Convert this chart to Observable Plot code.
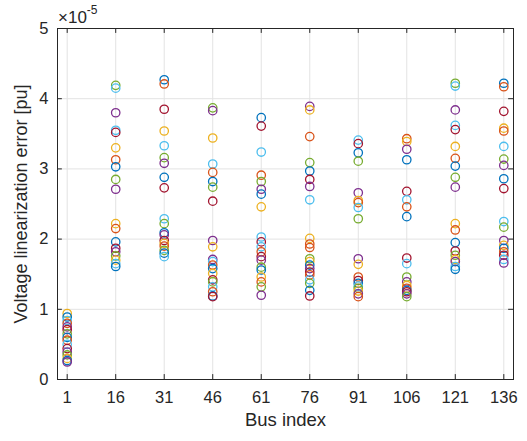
<!DOCTYPE html>
<html>
<head>
<meta charset="utf-8">
<script src="https://cdn.jsdelivr.net/npm/d3@7"></script>
<script src="https://cdn.jsdelivr.net/npm/@observablehq/plot@0.6"></script>
<style>
  html, body { margin: 0; padding: 0; background: #fff; }
</style>
</head>
<body>
<div id="chart"></div>
<script>
// Bus indices (x categories) and y tick values (×10^-5)
const buses = [1, 16, 31, 46, 61, 76, 91, 106, 121, 136];
const yTicks = [0, 1, 2, 3, 4, 5];

// MATLAB default colour order
const palette = {b: "#0072BD", o: "#D95319", y: "#EDB120", p: "#7E2F8E", g: "#77AC30", c: "#4DBEEE", r: "#A2142F"};

// Voltage linearization error per bus, [value ×10^-5, colour key]
const bus1 = [[0.94,"y"],[0.89,"b"],[0.84,"c"],[0.80,"o"],[0.75,"p"],[0.71,"r"],[0.65,"g"],[0.60,"b"],[0.56,"o"],[0.50,"c"],[0.44,"r"],[0.39,"p"],[0.35,"g"],[0.30,"y"],[0.27,"b"],[0.25,"p"]];
const bus16 = [[4.19,"g"],[4.15,"c"],[3.80,"p"],[3.55,"c"],[3.52,"r"],[3.30,"y"],[3.13,"o"],[3.03,"b"],[2.85,"g"],[2.71,"p"],[2.22,"y"],[2.15,"o"],[1.96,"b"],[1.87,"r"],[1.82,"p"],[1.76,"g"],[1.70,"y"],[1.65,"c"],[1.61,"b"]];
const bus31 = [[4.27,"b"],[4.21,"o"],[3.85,"r"],[3.54,"y"],[3.33,"c"],[3.16,"g"],[3.08,"p"],[2.88,"b"],[2.73,"r"],[2.29,"c"],[2.22,"g"],[2.09,"b"],[2.06,"p"],[1.98,"r"],[1.94,"y"],[1.90,"o"],[1.84,"g"],[1.80,"b"],[1.75,"c"]];
const bus46 = [[3.87,"g"],[3.83,"p"],[3.44,"y"],[3.07,"c"],[2.95,"o"],[2.82,"b"],[2.74,"g"],[2.54,"r"],[1.98,"p"],[1.89,"y"],[1.71,"p"],[1.68,"c"],[1.63,"o"],[1.58,"b"],[1.51,"y"],[1.42,"r"],[1.39,"g"],[1.32,"c"],[1.25,"o"],[1.19,"b"],[1.18,"r"]];
const bus61 = [[3.73,"b"],[3.61,"r"],[3.24,"c"],[2.91,"o"],[2.82,"g"],[2.71,"p"],[2.64,"b"],[2.46,"y"],[2.03,"c"],[1.96,"r"],[1.89,"c"],[1.82,"o"],[1.75,"r"],[1.70,"p"],[1.60,"g"],[1.56,"b"],[1.46,"y"],[1.39,"o"],[1.32,"g"],[1.20,"p"]];
const bus76 = [[3.89,"p"],[3.84,"y"],[3.46,"o"],[3.09,"g"],[2.97,"b"],[2.85,"r"],[2.75,"p"],[2.56,"c"],[2.01,"y"],[1.93,"o"],[1.88,"o"],[1.72,"g"],[1.68,"y"],[1.63,"b"],[1.58,"p"],[1.53,"r"],[1.49,"o"],[1.42,"c"],[1.37,"g"],[1.27,"b"],[1.19,"r"]];
const bus91 = [[3.41,"c"],[3.36,"r"],[3.23,"b"],[3.11,"g"],[2.66,"p"],[2.55,"y"],[2.52,"o"],[2.45,"c"],[2.29,"g"],[1.72,"p"],[1.64,"y"],[1.46,"o"],[1.41,"r"],[1.37,"b"],[1.33,"c"],[1.30,"g"],[1.26,"y"],[1.22,"p"],[1.18,"o"]];
const bus106 = [[3.43,"o"],[3.39,"y"],[3.28,"p"],[3.13,"b"],[2.68,"r"],[2.56,"c"],[2.46,"o"],[2.32,"b"],[1.73,"r"],[1.65,"c"],[1.46,"g"],[1.39,"p"],[1.34,"y"],[1.30,"o"],[1.27,"b"],[1.25,"r"],[1.22,"p"],[1.18,"g"]];
const bus121 = [[4.22,"g"],[4.18,"c"],[3.84,"p"],[3.62,"c"],[3.56,"r"],[3.32,"y"],[3.15,"o"],[3.04,"b"],[2.88,"g"],[2.74,"p"],[2.22,"y"],[2.13,"o"],[1.95,"b"],[1.83,"r"],[1.77,"g"],[1.71,"y"],[1.68,"p"],[1.61,"c"],[1.57,"b"]];
const bus136 = [[4.22,"b"],[4.17,"o"],[3.82,"r"],[3.58,"y"],[3.54,"o"],[3.32,"c"],[3.14,"g"],[3.05,"p"],[2.86,"b"],[2.72,"r"],[2.25,"c"],[2.17,"g"],[1.98,"p"],[1.91,"y"],[1.87,"b"],[1.82,"o"],[1.77,"r"],[1.71,"c"],[1.66,"p"]];

const columns = [bus1, bus16, bus31, bus46, bus61, bus76, bus91, bus106, bus121, bus136];
const points = columns.flatMap((col, i) => col.map(([v, c]) => ({bus: buses[i], v, color: palette[c]})));

const xDomain = [-2, 139];
const yDomain = [0, 5];
const grid = "#e3e3e3";
const axisColor = "#262626";

const chart = Plot.plot({
  width: 527,
  height: 441,
  marginLeft: 57,
  marginRight: 14,
  marginTop: 28,
  marginBottom: 62,
  style: {fontFamily: "'Liberation Sans', Arial, sans-serif", fontSize: "16.5px", color: axisColor, background: "#fff"},
  x: {domain: xDomain, ticks: buses, tickFormat: d => String(d), tickSize: 0, tickPadding: 12, label: null},
  y: {domain: yDomain, ticks: yTicks, tickFormat: d => String(d), tickSize: 0, tickPadding: 9, label: null},
  color: {type: "identity"},
  marks: [
    Plot.ruleX(buses, {stroke: grid, strokeWidth: 1}),
    Plot.ruleY(yTicks.slice(1, -1), {stroke: grid, strokeWidth: 1}),
    Plot.ruleX(buses, {y1: yDomain[0], y2: yDomain[0] + 0.07, stroke: axisColor}),
    Plot.ruleX(buses, {y1: yDomain[1], y2: yDomain[1] - 0.07, stroke: axisColor}),
    Plot.ruleY(yTicks, {x1: xDomain[0], x2: xDomain[0] + 1.5, stroke: axisColor}),
    Plot.ruleY(yTicks, {x1: xDomain[1], x2: xDomain[1] - 1.5, stroke: axisColor}),
    Plot.dot(points, {x: "bus", y: "v", stroke: "color", r: 4.2, strokeWidth: 1.3, fill: "none"}),
    Plot.frame({stroke: axisColor, strokeWidth: 1}),
    Plot.text(["Voltage linearization error [pu]"], {frameAnchor: "left", dx: -36, rotate: -90, textAnchor: "middle", fontSize: 18, fill: axisColor}),
    Plot.text(["Bus index"], {frameAnchor: "bottom", dy: 46, textAnchor: "middle", fontSize: 18.5, fill: axisColor})
  ]
});

document.getElementById("chart").appendChild(chart);

// Exponent label "×10^-5" above the y axis
const svg = d3.select(chart.tagName.toLowerCase() === "svg" ? chart : chart.querySelector("svg"));
const expo = svg.append("text")
  .attr("x", 58)
  .attr("y", 23)
  .attr("text-anchor", "start")
  .attr("fill", axisColor)
  .style("font-family", "'Liberation Sans', Arial, sans-serif")
  .style("font-size", "17px");
expo.append("tspan").text("×10");
expo.append("tspan").attr("dy", -9).style("font-size", "12px").text("-5");
</script>
</body>
</html>
